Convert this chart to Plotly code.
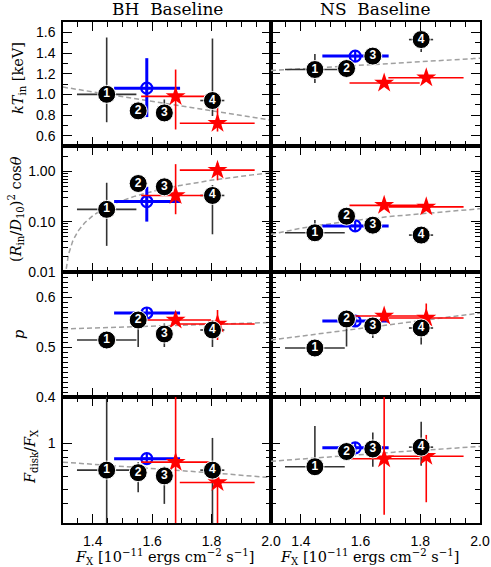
import numpy as np
import plotly.graph_objects as go

# ---------------- data ----------------
# x (flux) values shared by all panels, in 1e-11 erg/cm2/s
BLACK_FX = [1.447, 1.553, 1.641, 1.803]
BLACK_FX_LO = [1.347, 1.553, 1.641, 1.762]
BLACK_FX_HI = [1.547, 1.553, 1.641, 1.843]
BLACK_LABELS = ["1", "2", "3", "4"]
BLUE_FX = [1.582]
BLUE_FX_LO = [1.472]
BLUE_FX_HI = [1.694]
RED_FX = [1.679, 1.820]
RED_FX_LO = [1.563, 1.693]
RED_FX_HI = [1.798, 1.945]

# kT_in [keV]
BH_KT_BLACK = [1.00, 0.84, 0.82, 0.94]
BH_KT_BLACK_LO = [0.73, 0.84, 0.76, 0.79]
BH_KT_BLACK_HI = [1.55, 0.84, 0.95, 1.54]
BH_KT_BLUE = [1.06]; BH_KT_BLUE_LO = [0.78]; BH_KT_BLUE_HI = [1.35]
BH_KT_RED = [0.98, 0.72]; BH_KT_RED_LO = [0.66, 0.64]; BH_KT_RED_HI = [1.24, 0.87]
NS_KT_BLACK = [1.24, 1.25, 1.37, 1.53]
NS_KT_BLACK_LO = [1.11, 1.25, 1.37, 1.41]
NS_KT_BLACK_HI = [1.39, 1.25, 1.37, 1.62]
NS_KT_BLUE = [1.37]; NS_KT_BLUE_LO = [1.37]; NS_KT_BLUE_HI = [1.37]
NS_KT_RED = [1.11, 1.16]; NS_KT_RED_LO = [1.11, 1.16]; NS_KT_RED_HI = [1.11, 1.16]

# (R_in/D_10)^2 cos(theta)
BH_NORM_BLACK = [0.175, 0.57, 0.49, 0.33]
BH_NORM_BLACK_LO = [0.033, 0.57, 0.49, 0.056]
BH_NORM_BLACK_HI = [0.59, 0.57, 0.49, 0.53]
BH_NORM_BLUE = [0.25]; BH_NORM_BLUE_LO = [0.10]; BH_NORM_BLUE_HI = [0.49]
BH_NORM_RED = [0.33, 1.05]; BH_NORM_RED_LO = [0.14, 0.66]; BH_NORM_RED_HI = [1.38, 1.46]
NS_NORM_BLACK = [0.060, 0.128, 0.085, 0.054]
NS_NORM_BLACK_LO = [0.060, 0.128, 0.085, 0.054]
NS_NORM_BLACK_HI = [0.107, 0.128, 0.085, 0.054]
NS_NORM_BLUE = [0.082]; NS_NORM_BLUE_LO = [0.082]; NS_NORM_BLUE_HI = [0.082]
NS_NORM_RED = [0.21, 0.196]; NS_NORM_RED_LO = [0.21, 0.196]; NS_NORM_RED_HI = [0.21, 0.196]

# p
BH_P_BLACK = [0.514, 0.554, 0.526, 0.534]
BH_P_BLACK_LO = [0.514, 0.500, 0.500, 0.500]
BH_P_BLACK_HI = [0.514, 0.554, 0.547, 0.554]
BH_P_BLUE = [0.568]; BH_P_BLUE_LO = [0.568]; BH_P_BLUE_HI = [0.568]
BH_P_RED = [0.554, 0.546]; BH_P_RED_LO = [0.554, 0.514]; BH_P_RED_HI = [0.554, 0.574]
NS_P_BLACK = [0.498, 0.556, 0.542, 0.538]
NS_P_BLACK_LO = [0.498, 0.501, 0.518, 0.505]
NS_P_BLACK_HI = [0.498, 0.556, 0.562, 0.557]
NS_P_BLUE = [0.552]; NS_P_BLUE_LO = [0.552]; NS_P_BLUE_HI = [0.552]
NS_P_RED = [0.562, 0.558]; NS_P_RED_LO = [0.551, 0.544]; NS_P_RED_HI = [0.575, 0.587]

# F_disk / F_X
BH_FRAC_BLACK = [0.665, 0.64, 0.61, 0.665]
BH_FRAC_BLACK_LO = [0.25, 0.476, 0.40, 0.25]
BH_FRAC_BLACK_HI = [2.5, 0.75, 0.70, 1.08]
BH_FRAC_BLUE = [0.79]; BH_FRAC_BLUE_LO = [0.79]; BH_FRAC_BLUE_HI = [0.79]
BH_FRAC_RED = [0.75, 0.552]; BH_FRAC_RED_LO = [0.25, 0.25]; BH_FRAC_RED_HI = [2.5, 0.66]
NS_FRAC_BLACK = [0.70, 0.88, 0.915, 0.94]
NS_FRAC_BLACK_LO = [0.65, 0.88, 0.70, 0.71]
NS_FRAC_BLACK_HI = [1.29, 0.88, 1.17, 1.38]
NS_FRAC_BLUE = [0.93]; NS_FRAC_BLUE_LO = [0.93]; NS_FRAC_BLUE_HI = [0.93]
NS_FRAC_RED = [0.79, 0.82]; NS_FRAC_RED_LO = [0.34, 0.41]; NS_FRAC_RED_HI = [2.5, 1.13]

# linear fits: value at F_X = 1.3 and slope per unit F_X (panel order: BH/NS x kT, norm, p, frac)
FIT_AT_13 = [1.07, 1.23, -0.0027, 0.056, 0.536, 0.514, 0.75, 0.76]
FIT_SLOPE = [-0.457, 0.171, 1.33, 0.177, 0.0186, 0.077, -0.223, 0.271]

COL_TITLES = ["BH  Baseline", "NS  Baseline"]
Y_TITLES = ["<i>kT</i><sub>in</sub> [keV]",
            "(<i>R</i><sub>in</sub>/<i>D</i><sub>10</sub>)<sup>2</sup> cos<i>θ</i>",
            "<i>p</i>",
            "<i>F</i><sub>disk</sub>/<i>F</i><sub>X</sub>"]
X_TITLE = "<i>F</i><sub>X</sub> [10<sup>−11</sup> ergs cm<sup>−2</sup> s<sup>−1</sup>]"

PANELS = [
    (BH_KT_BLACK, BH_KT_BLACK_LO, BH_KT_BLACK_HI, BH_KT_BLUE, BH_KT_BLUE_LO, BH_KT_BLUE_HI, BH_KT_RED, BH_KT_RED_LO, BH_KT_RED_HI),
    (NS_KT_BLACK, NS_KT_BLACK_LO, NS_KT_BLACK_HI, NS_KT_BLUE, NS_KT_BLUE_LO, NS_KT_BLUE_HI, NS_KT_RED, NS_KT_RED_LO, NS_KT_RED_HI),
    (BH_NORM_BLACK, BH_NORM_BLACK_LO, BH_NORM_BLACK_HI, BH_NORM_BLUE, BH_NORM_BLUE_LO, BH_NORM_BLUE_HI, BH_NORM_RED, BH_NORM_RED_LO, BH_NORM_RED_HI),
    (NS_NORM_BLACK, NS_NORM_BLACK_LO, NS_NORM_BLACK_HI, NS_NORM_BLUE, NS_NORM_BLUE_LO, NS_NORM_BLUE_HI, NS_NORM_RED, NS_NORM_RED_LO, NS_NORM_RED_HI),
    (BH_P_BLACK, BH_P_BLACK_LO, BH_P_BLACK_HI, BH_P_BLUE, BH_P_BLUE_LO, BH_P_BLUE_HI, BH_P_RED, BH_P_RED_LO, BH_P_RED_HI),
    (NS_P_BLACK, NS_P_BLACK_LO, NS_P_BLACK_HI, NS_P_BLUE, NS_P_BLUE_LO, NS_P_BLUE_HI, NS_P_RED, NS_P_RED_LO, NS_P_RED_HI),
    (BH_FRAC_BLACK, BH_FRAC_BLACK_LO, BH_FRAC_BLACK_HI, BH_FRAC_BLUE, BH_FRAC_BLUE_LO, BH_FRAC_BLUE_HI, BH_FRAC_RED, BH_FRAC_RED_LO, BH_FRAC_RED_HI),
    (NS_FRAC_BLACK, NS_FRAC_BLACK_LO, NS_FRAC_BLACK_HI, NS_FRAC_BLUE, NS_FRAC_BLUE_LO, NS_FRAC_BLUE_HI, NS_FRAC_RED, NS_FRAC_RED_LO, NS_FRAC_RED_HI),
]

# ---------------- layout geometry ----------------
W, H = 491, 567
COL_PX = [(63, 271), (271, 480)]
ROW_PX = [(22, 146), (146, 272), (272, 397), (397, 523)]

SANS = "Liberation Sans"
SERIF = "DejaVu Serif"


def errs(val, lo, hi):
    return [h - v for v, h in zip(val, hi)], [v - l for v, l in zip(val, lo)]


fig = go.Figure()
layout = dict(width=W, height=H, autosize=False,
              margin=dict(l=0, r=0, t=0, b=0, autoexpand=False),
              paper_bgcolor="white", plot_bgcolor="white", showlegend=False)

FX_GRID = np.linspace(1.3, 2.0, 281)

for idx, pdata in enumerate(PANELS):
    r, c = divmod(idx, 2)
    n = idx + 1
    xa = "x" if n == 1 else f"x{n}"
    ya = "y" if n == 1 else f"y{n}"
    (bk, bklo, bkhi, bl, bllo, blhi, rd, rdlo, rdhi) = pdata

    # fit line
    fit = FIT_AT_13[idx] + FIT_SLOPE[idx] * (FX_GRID - 1.3)
    fit = [v if v > 0 else None for v in fit]
    fig.add_trace(go.Scatter(x=FX_GRID, y=fit, mode="lines", xaxis=xa, yaxis=ya,
                             line=dict(color="#a0a0a0", width=1.5, dash="5px,3px"),
                             hoverinfo="skip"))

    # black error bars (markers drawn later on top)
    ep, em = errs(bk, bklo, bkhi)
    xp, xm = errs(BLACK_FX, BLACK_FX_LO, BLACK_FX_HI)
    fig.add_trace(go.Scatter(x=BLACK_FX, y=bk, mode="markers", xaxis=xa, yaxis=ya,
                             marker=dict(size=1, color="rgba(0,0,0,0)"),
                             error_y=dict(type="data", symmetric=False, array=ep, arrayminus=em,
                                          width=0, thickness=1.6, color="#333333"),
                             error_x=dict(type="data", symmetric=False, array=xp, arrayminus=xm,
                                          width=0, thickness=1.6, color="#333333")))
    # blue
    ep, em = errs(bl, bllo, blhi)
    xp, xm = errs(BLUE_FX, BLUE_FX_LO, BLUE_FX_HI)
    fig.add_trace(go.Scatter(x=BLUE_FX, y=bl, mode="markers", xaxis=xa, yaxis=ya,
                             marker=dict(symbol="circle-cross-open", size=11, color="#0000ff",
                                         line=dict(width=2.2, color="#0000ff")),
                             error_y=dict(type="data", symmetric=False, array=ep, arrayminus=em,
                                          width=0, thickness=3, color="#0000ff"),
                             error_x=dict(type="data", symmetric=False, array=xp, arrayminus=xm,
                                          width=0, thickness=3, color="#0000ff")))
    # red stars
    ep, em = errs(rd, rdlo, rdhi)
    xp, xm = errs(RED_FX, RED_FX_LO, RED_FX_HI)
    fig.add_trace(go.Scatter(x=RED_FX, y=rd, mode="markers", xaxis=xa, yaxis=ya,
                             marker=dict(symbol="star", size=15, color="#ff0000",
                                         line=dict(width=0)),
                             error_y=dict(type="data", symmetric=False, array=ep, arrayminus=em,
                                          width=0, thickness=1.6, color="#ff0000"),
                             error_x=dict(type="data", symmetric=False, array=xp, arrayminus=xm,
                                          width=0, thickness=1.6, color="#ff0000")))
    # black numbered circles on top
    fig.add_trace(go.Scatter(x=BLACK_FX, y=bk, mode="markers+text", xaxis=xa, yaxis=ya,
                             text=[f"<b>{t}</b>" for t in BLACK_LABELS],
                             textposition="middle center",
                             textfont=dict(family=SANS, size=12, color="white"),
                             marker=dict(size=18, color="black", line=dict(width=1, color="white"))))

    # axes
    x0, x1 = COL_PX[c]
    y0, y1 = ROW_PX[r]
    common = dict(showline=True, mirror="allticks", linecolor="black", linewidth=1.5,
                  ticks="inside", tickcolor="black", tickwidth=1.4, showgrid=False,
                  zeroline=False, tickfont=dict(family=SANS, size=14, color="black"))
    xaxis = dict(common, domain=[x0 / W, x1 / W], anchor=ya, range=[1.3, 2.0],
                 tick0=1.4, dtick=0.2, ticklen=9, tickformat=".1f",
                 showticklabels=(r == 3), ticklabelstandoff=4,
                 minor=dict(ticks="inside", ticklen=5, dtick=0.05, tick0=1.3,
                            tickcolor="black", tickwidth=1.2))
    ydom = [1 - y1 / H, 1 - y0 / H]
    yaxis = dict(common, domain=ydom, anchor=xa, showticklabels=(c == 0), ticklen=9,
                 ticklabelstandoff=3)
    if r == 0:
        yaxis.update(range=[0.5, 1.7], tick0=0.6, dtick=0.2, tickformat=".1f",
                     minor=dict(ticks="inside", ticklen=5, dtick=0.1, tick0=0.5,
                                tickcolor="black", tickwidth=1.2))
    elif r == 1:
        yaxis.update(type="log", range=[-2, 0.5], tickvals=[0.01, 0.1, 1],
                     ticktext=["0.01", "0.10", "1.00"],
                     minor=dict(ticks="inside", ticklen=5, tickcolor="black", tickwidth=1.2,
                                tickvals=[k * 0.01 for k in range(2, 10)]
                                + [k * 0.1 for k in range(2, 10)] + [2, 3]))
    elif r == 2:
        yaxis.update(range=[0.4, 0.65], tick0=0.4, dtick=0.1, tickformat=".1f",
                     minor=dict(ticks="inside", ticklen=5, dtick=0.01, tick0=0.4,
                                tickcolor="black", tickwidth=1.2))
    else:
        yaxis.update(type="log", range=[np.log10(0.3), np.log10(2.0)], tickvals=[1],
                     ticktext=["1"],
                     minor=dict(ticks="inside", ticklen=5, tickcolor="black", tickwidth=1.2,
                                tickvals=[0.3, 0.4, 0.5, 0.6, 0.7, 0.8, 0.9, 2]))
    layout["xaxis" if n == 1 else f"xaxis{n}"] = xaxis
    layout["yaxis" if n == 1 else f"yaxis{n}"] = yaxis

annotations = []
for c, t in enumerate(COL_TITLES):
    annotations.append(dict(text=t, x=(COL_PX[c][0] + COL_PX[c][1]) / 2 / W, y=1 - 9 / H,
                            xref="paper", yref="paper", showarrow=False,
                            xanchor="center", yanchor="middle",
                            font=dict(family=SERIF, size=17, color="black")))
    annotations.append(dict(text=X_TITLE, x=[164, 369][c] / W, y=1 - 557 / H,
                            xref="paper", yref="paper", showarrow=False,
                            xanchor="center", yanchor="middle",
                            font=dict(family=SERIF, size=14.5, color="black")))
YT_X = [19, 16, 19, 31]
YT_Y = [78, 209, 335, 457]
for r, t in enumerate(Y_TITLES):
    annotations.append(dict(text=t, x=YT_X[r] / W, y=1 - YT_Y[r] / H, textangle=-90,
                            xref="paper", yref="paper", showarrow=False,
                            xanchor="center", yanchor="middle",
                            font=dict(family=SERIF, size=14.5, color="black")))
layout["annotations"] = annotations
fig.update_layout(**layout)
fig.write_html("out.html", config={"displayModeBar": False},
               post_script="document.body.style.margin='0';document.body.style.overflow='hidden';")
